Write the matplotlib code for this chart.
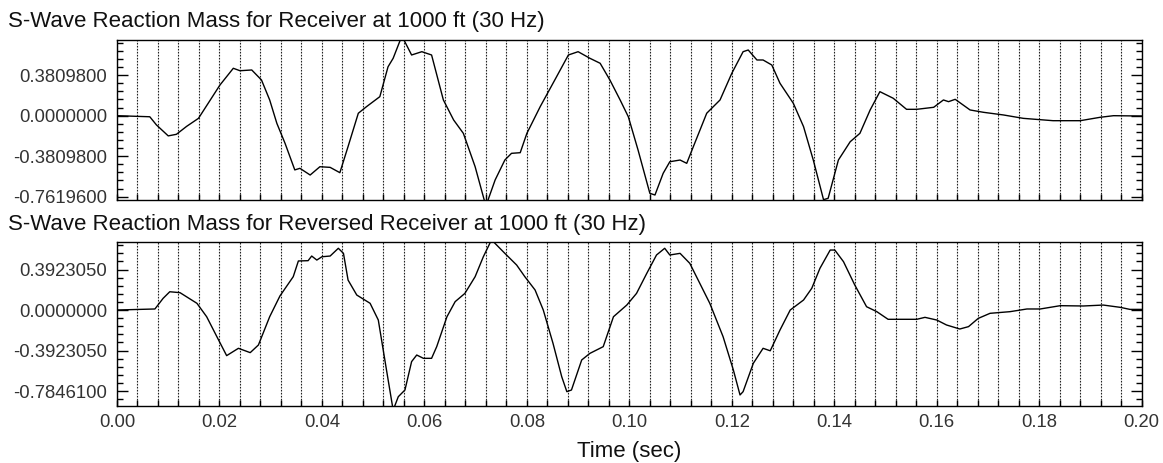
import matplotlib
matplotlib.use("Agg")
import matplotlib.pyplot as plt
from matplotlib.ticker import MultipleLocator, FormatStrFormatter, FixedLocator

plt.rcParams['font.family'] = ['Liberation Sans', 'DejaVu Sans']

# S-wave reaction mass, receiver at 1000 ft
top_t = [0.000, 0.0064, 0.0077, 0.0100, 0.0116, 0.0136, 0.0159, 0.0178, 0.0201, 0.0227,
         0.0240, 0.0263, 0.0282, 0.0298, 0.0312, 0.0328, 0.0347, 0.0357, 0.0377, 0.0396,
         0.0416, 0.0435, 0.0451, 0.0471, 0.0487, 0.0513, 0.0529, 0.0539, 0.0556, 0.0575,
         0.0595, 0.0614, 0.0637, 0.0657, 0.0676, 0.0699, 0.0720, 0.0738, 0.0757, 0.0770,
         0.0787, 0.0800, 0.0826, 0.0858, 0.0881, 0.0900, 0.0923, 0.0943, 0.0962, 0.0982,
         0.0998, 0.1017, 0.1040, 0.1050, 0.1066, 0.1079, 0.1099, 0.1112, 0.1125, 0.1151,
         0.1177, 0.1200, 0.1222, 0.1232, 0.1249, 0.1261, 0.1278, 0.1294, 0.1320, 0.1340,
         0.1359, 0.1379, 0.1388, 0.1408, 0.1431, 0.1450, 0.1470, 0.1489, 0.1515, 0.1541,
         0.1561, 0.1594, 0.1613, 0.1623, 0.1636, 0.1665, 0.1691, 0.1730, 0.1769, 0.1827,
         0.1880, 0.1919, 0.1945, 0.2000]
top_v = [0.000, -0.010, -0.087, -0.190, -0.175, -0.100, -0.025, 0.117, 0.289, 0.446,
         0.423, 0.430, 0.336, 0.148, -0.072, -0.260, -0.510, -0.495, -0.558, -0.480,
         -0.486, -0.536, -0.290, 0.023, 0.085, 0.179, 0.460, 0.540, 0.750, 0.571,
         0.602, 0.571, 0.148, -0.040, -0.166, -0.480, -0.850, -0.605, -0.417, -0.354,
         -0.348, -0.166, 0.085, 0.367, 0.571, 0.602, 0.540, 0.493, 0.336, 0.148,
         -0.010, -0.323, -0.730, -0.746, -0.542, -0.433, -0.417, -0.448, -0.290, 0.023,
         0.148, 0.399, 0.602, 0.618, 0.524, 0.524, 0.477, 0.305, 0.117, -0.103,
         -0.417, -0.790, -0.777, -0.417, -0.245, -0.166, 0.054, 0.226, 0.164, 0.060,
         0.060, 0.079, 0.148, 0.132, 0.154, 0.054, 0.032, 0.007, -0.025, -0.047,
         -0.047, -0.015, 0.000, -0.003]

# reversed receiver
bot_t = [0.000, 0.0074, 0.0090, 0.0103, 0.0123, 0.0156, 0.0175, 0.0195, 0.0214, 0.0237,
         0.0260, 0.0276, 0.0298, 0.0318, 0.0344, 0.0354, 0.0373, 0.0380, 0.0390, 0.0400,
         0.0416, 0.0432, 0.0442, 0.0451, 0.0468, 0.0494, 0.0510, 0.0526, 0.0539, 0.0549,
         0.0562, 0.0575, 0.0585, 0.0598, 0.0614, 0.0624, 0.0644, 0.0660, 0.0679, 0.0699,
         0.0715, 0.0731, 0.0757, 0.0780, 0.0796, 0.0816, 0.0832, 0.0851, 0.0868, 0.0878,
         0.0887, 0.0907, 0.0923, 0.0949, 0.0969, 0.0995, 0.1014, 0.1034, 0.1053, 0.1069,
         0.1079, 0.1099, 0.1118, 0.1157, 0.1183, 0.1203, 0.1216, 0.1222, 0.1242, 0.1261,
         0.1275, 0.1294, 0.1314, 0.1340, 0.1356, 0.1372, 0.1392, 0.1401, 0.1418, 0.1440,
         0.1463, 0.1483, 0.1505, 0.1535, 0.1561, 0.1577, 0.1600, 0.1619, 0.1645, 0.1662,
         0.1681, 0.1704, 0.1743, 0.1776, 0.1802, 0.1841, 0.1886, 0.1925, 0.1958, 0.1977,
         0.2000]
bot_v = [0.000, 0.010, 0.113, 0.177, 0.168, 0.065, -0.065, -0.259, -0.442, -0.371,
         -0.413, -0.339, -0.065, 0.136, 0.323, 0.475, 0.478, 0.523, 0.484, 0.516,
         0.523, 0.598, 0.549, 0.290, 0.145, 0.065, -0.097, -0.581, -0.970, -0.840,
         -0.775, -0.500, -0.436, -0.468, -0.468, -0.355, -0.065, 0.081, 0.161, 0.323,
         0.516, 0.680, 0.549, 0.436, 0.323, 0.194, 0.000, -0.323, -0.646, -0.791,
         -0.775, -0.484, -0.420, -0.355, -0.065, 0.048, 0.161, 0.355, 0.533, 0.598,
         0.533, 0.549, 0.452, 0.065, -0.259, -0.581, -0.823, -0.791, -0.516, -0.371,
         -0.395, -0.194, 0.000, 0.097, 0.210, 0.404, 0.581, 0.581, 0.468, 0.242,
         0.032, -0.016, -0.090, -0.090, -0.090, -0.071, -0.097, -0.145, -0.184, -0.161,
         -0.081, -0.032, -0.016, 0.010, 0.010, 0.042, 0.039, 0.048, 0.026, 0.006,
         0.006]

top_ticks = [-0.76196, -0.38098, 0.0, 0.38098]
bot_ticks = [-0.78461, -0.392305, 0.0, 0.392305]
top_title = "S-Wave Reaction Mass for Receiver at 1000 ft (30 Hz)"
bot_title = "S-Wave Reaction Mass for Reversed Receiver at 1000 ft (30 Hz)"

W, H = 1163, 463
fig = plt.figure(figsize=(W / 100, H / 100), dpi=100)


def panel(top_px, bot_px):
    left, right = 117, 1141.7
    return fig.add_axes([left / W, 1 - bot_px / H, (right - left) / W, (bot_px - top_px) / H])


def style(ax, ticks, ylim, show_x):
    ax.set_xlim(0, 0.2)
    ax.set_ylim(*ylim)
    ax.xaxis.set_major_locator(MultipleLocator(0.02))
    ax.xaxis.set_minor_locator(MultipleLocator(0.004))
    ax.yaxis.set_major_locator(FixedLocator(ticks))
    ax.yaxis.set_minor_locator(MultipleLocator(ticks[-1] / 5))
    ax.yaxis.set_major_formatter(FormatStrFormatter('%.7f'))
    ax.xaxis.set_major_formatter(FormatStrFormatter('%.2f'))
    ax.tick_params(axis='y', which='major', direction='in', length=8, width=1,
                   left=True, right=True, labelsize=13.3, pad=7, colors='black')
    ax.tick_params(axis='y', which='minor', direction='in', length=4.5, width=1,
                   left=True, right=True)
    ax.tick_params(axis='x', which='both', direction='in', length=4, width=1,
                   bottom=True, top=False, labelsize=13.3, pad=6,
                   labelbottom=show_x, labelcolor='#333333')
    ax.tick_params(axis='y', labelcolor='#333333')
    ax.grid(True, axis='x', which='both', color='#222222', linestyle=(0, (1.5, 1.2)), linewidth=0.8)
    for s in ax.spines.values():
        s.set_linewidth(1.0)


ax1 = panel(40, 200)
ax1.plot(top_t, top_v, color='black', linewidth=1.0)
style(ax1, top_ticks, (-0.793, 0.712), False)

ax2 = panel(242.3, 405.7)
ax2.plot(bot_t, bot_v, color='black', linewidth=1.0)
style(ax2, bot_ticks, (-0.927, 0.656), True)

fig.text(8 / W, 1 - 27 / H, top_title, fontsize=16, ha='left', va='baseline', color='#111111')
fig.text(8 / W, 1 - 230 / H, bot_title, fontsize=16, ha='left', va='baseline', color='#111111')
fig.text(629 / W, 1 - 456.7 / H, "Time (sec)", fontsize=16, ha='center', va='baseline', color='#111111')

fig.savefig("out.png", dpi=100, facecolor='white')
